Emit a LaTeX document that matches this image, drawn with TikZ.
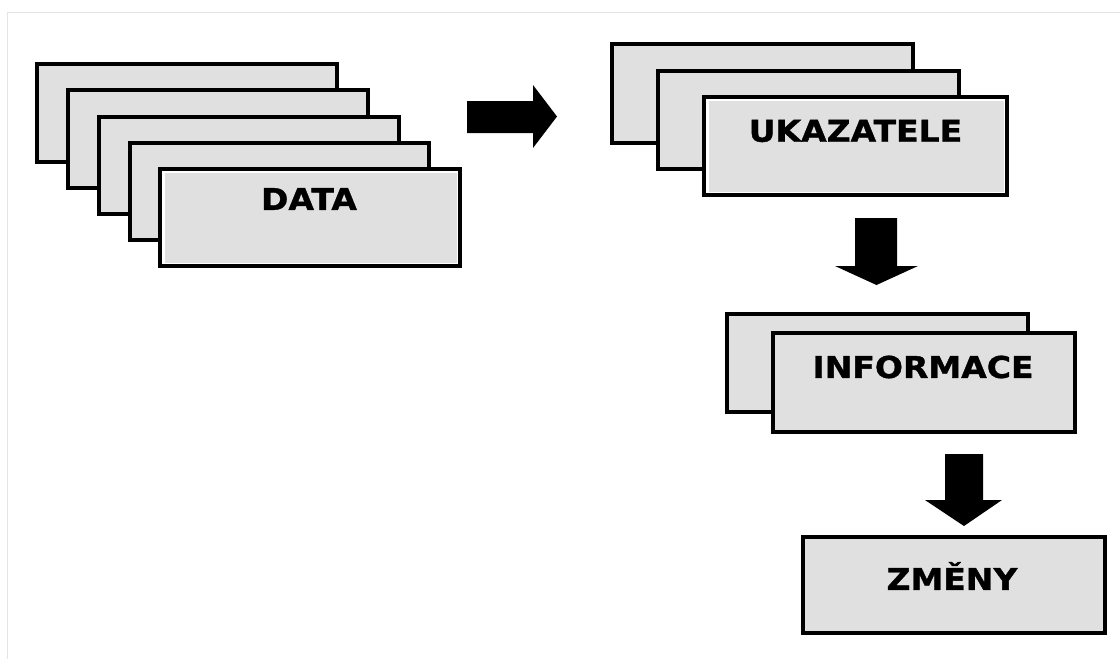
\documentclass[tikz,border=0pt]{standalone}
\usepackage{fontspec}
\newfontfamily\boxfont{DejaVu Sans}[FakeStretch=1.1, FakeBold=1.2]
\usetikzlibrary{calc}

\definecolor{boxgrey}{HTML}{E0E0E0}
\definecolor{framegrey}{HTML}{E4E4E4}

\tikzset{
  card/.style={draw=black, line width=3.2pt, fill=boxgrey, rectangle,
    inner sep=0pt, outer sep=0pt},
  % front card: black rim, thin white strip, grey face
  frontcard/.style={card, fill=white,
    path picture={\fill[boxgrey]
      ([shift={(5pt,3.5pt)}]path picture bounding box.south west) rectangle
      ([shift={(-3.5pt,-4pt)}]path picture bounding box.north east);}},
  cardtext/.style={font=\boxfont\bfseries\fontsize{30}{30}\selectfont,
    text=black, inner sep=0pt},
  blockarrow/.style={fill=black, draw=none}
}

% card given by its corners (x1,y1) (x2,y2), y measured downwards
\newcommand{\cardat}[6]{%
  \node[#1, minimum width={(#4-#2)*1pt}, minimum height={(#5-#3)*1pt}]
    (#6) at ({(#2+#4)/2},{(#3+#5)/2}) {};}

\begin{document}
\begin{tikzpicture}[x=1pt, y=-1pt]
\useasboundingbox (0,0) rectangle (1120,659);

% faint page frame
\draw[framegrey, line width=1pt] (7,659) -- (7,12) -- (1120,12);

% DATA stack
\cardat{card}{37}{64}{337}{162}{d1}
\cardat{card}{68}{90}{368}{188}{d2}
\cardat{card}{99}{117}{399}{214}{d3}
\cardat{card}{130}{143}{429}{240}{d4}
\cardat{frontcard}{160}{169}{460}{266}{d5}
\node[cardtext] (tdata) at ($(d5.center)+(-1,-18.5)$) {DATA};

% UKAZATELE stack
\cardat{card}{612}{44}{913}{143}{u1}
\cardat{card}{658}{71}{959}{169}{u2}
\cardat{frontcard}{704}{97}{1007}{195}{u3}
\node[cardtext] (tuk) at ($(u3.center)+(0,-15)$) {UKAZATELE};

% INFORMACE stack
\cardat{card}{727}{314}{1028}{412}{i1}
\cardat{card}{773}{333}{1075}{432}{i2}
\node[cardtext] (tinf) at ($(i2.center)+(-1,-15.5)$) {INFORMACE};

% ZMĚNY
\cardat{card}{803}{537}{1105}{633}{z1}
\node[cardtext] (tzm) at ($(z1.center)+(-2,-9)$) {ZMĚNY};

% block arrows between the stacks
\fill[blockarrow] (467,101) -- (533,101) -- (533,85) -- (557,116.5)
  -- (533,148) -- (533,133) -- (467,133) -- cycle;
\fill[blockarrow] (855,218) -- (897,218) -- (897,266) -- (918,266)
  -- (876.5,285) -- (835,266) -- (855,266) -- cycle;
\fill[blockarrow] (945,454) -- (983,454) -- (983,500) -- (1002,500)
  -- (964,526) -- (925,500) -- (945,500) -- cycle;
\end{tikzpicture}
\end{document}
